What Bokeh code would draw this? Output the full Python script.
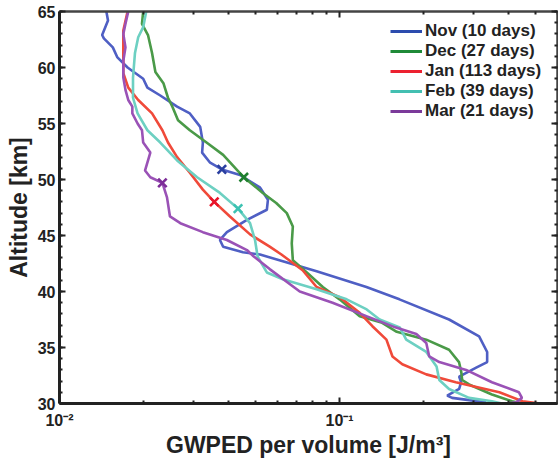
from bokeh.plotting import figure
from bokeh.models import Range1d, LinearAxis, LogAxis, FixedTicker, SingleIntervalTicker, Legend, LegendItem
from bokeh.embed import file_html
from bokeh.resources import INLINE

# ---- data ----
nov_alt = [65.0, 64.2, 62.9, 62.6, 61.8, 60.9, 60.0, 59.0, 58.2, 57.5, 56.5, 55.9, 54.7, 53.3, 52.4, 51.5, 50.9, 50.4,
           49.3, 48.2, 47.3, 46.4, 45.3, 44.6, 44.0, 43.5, 43.3, 42.7, 41.8, 40.4, 39.3, 37.5, 36.0, 34.6, 33.7, 33.2,
           32.4, 31.9, 31.3, 30.7, 30.5, 30.3, 30.1]
nov_val = [0.0147, 0.0149, 0.0142, 0.0144, 0.0155, 0.0161, 0.0175, 0.0199, 0.0206, 0.0229, 0.0263, 0.0292, 0.0318,
           0.0325, 0.0323, 0.0345, 0.0380, 0.0441, 0.0519, 0.0555, 0.0550, 0.0467, 0.0396, 0.0374, 0.0384, 0.0452,
           0.0520, 0.0627, 0.0828, 0.1247, 0.1636, 0.246, 0.315, 0.3365, 0.3365, 0.3075, 0.2673, 0.2717, 0.2673,
           0.2423, 0.2523, 0.2904, 0.3334]

dec_alt = [65.0, 63.9, 62.9, 61.3, 59.6, 58.6, 57.3, 56.5, 55.3, 54.4, 53.3, 52.2, 50.2, 48.8, 47.9, 47.0, 45.8, 44.3,
           42.8, 41.7, 40.4, 39.3, 37.8, 37.2, 36.4, 35.7, 34.8, 33.7, 32.8, 32.1, 31.7, 30.8, 30.2, 30.0]
dec_val = [0.0199, 0.0197, 0.0207, 0.0214, 0.0220, 0.0235, 0.0244, 0.0253, 0.0265, 0.0292, 0.0335, 0.0384, 0.0455,
           0.0532, 0.0594, 0.0648, 0.0681, 0.0675, 0.0681, 0.0764, 0.0871, 0.100, 0.118, 0.142, 0.160, 0.204, 0.246,
           0.267, 0.272, 0.274, 0.290, 0.350, 0.413, 0.45]

jan_alt = [65.0, 63.3, 60.6, 59.5, 58.2, 57.1, 55.9, 54.4, 53.3, 52.0, 50.6, 49.1, 48.0, 46.7, 45.1, 44.0, 43.3, 41.9,
           40.4, 39.5, 38.1, 36.9, 35.7, 34.2, 33.5, 32.6, 31.9, 31.0, 30.2, 30.0]
jan_val = [0.0175, 0.0169, 0.0169, 0.0169, 0.0176, 0.0191, 0.0214, 0.0233, 0.0244, 0.0263, 0.0292, 0.0325, 0.0357,
           0.0406, 0.0479, 0.0563, 0.0620, 0.0738, 0.0828, 0.100, 0.118, 0.131, 0.147, 0.1545, 0.1675, 0.204, 0.260,
           0.372, 0.45, 0.52]

feb_alt = [65.0, 63.6, 62.7, 61.3, 59.1, 57.3, 55.9, 54.4, 53.3, 51.7, 50.2, 48.8, 47.4, 46.1, 44.6, 43.1, 41.7, 41.1,
           40.2, 39.3, 38.4, 37.5, 36.8, 35.7, 34.6, 33.3, 32.1, 31.3, 30.5, 30.2, 30.0]
feb_val = [0.0204, 0.0199, 0.0191, 0.0186, 0.0183, 0.0183, 0.0190, 0.0206, 0.0229, 0.0263, 0.0310, 0.0374, 0.0434,
           0.0479, 0.0499, 0.0510, 0.0550, 0.0627, 0.0828, 0.106, 0.125, 0.139, 0.164, 0.173, 0.204, 0.222, 0.227,
           0.246, 0.290, 0.350, 0.38]

mar_alt = [65.0, 63.9, 63.0, 61.8, 60.6, 59.1, 58.0, 57.1, 56.5, 55.9, 55.0, 54.4, 53.3, 52.4, 50.8, 50.2, 49.7, 48.4,
           46.7, 46.1, 45.3, 44.6, 43.7, 43.2, 42.0, 40.0, 39.0, 37.8, 36.8, 36.2, 35.4, 34.2, 33.7, 33.0, 31.9, 31.0,
           30.5, 30.1, 30.0]
mar_val = [0.0176, 0.0172, 0.0169, 0.0172, 0.0169, 0.0169, 0.0172, 0.0176, 0.0182, 0.0182, 0.0190, 0.0197, 0.0199,
           0.0211, 0.0202, 0.0211, 0.0233, 0.0242, 0.0248, 0.0270, 0.0325, 0.0396, 0.0467, 0.0490, 0.0563, 0.0721,
           0.0944, 0.1247, 0.158, 0.188, 0.204, 0.209, 0.227, 0.283, 0.350, 0.437, 0.448, 0.427, 0.40]

labels = ["Nov (10 days)", "Dec (27 days)", "Jan (113 days)", "Feb (39 days)", "Mar (21 days)"]
marker_val = [0.0380, 0.0455, 0.0357, 0.0434, 0.0233]
marker_alt = [50.9, 50.2, 48.0, 47.4, 49.7]

x_major = [0.01, 0.1]
x_minor = [0.02, 0.03, 0.04, 0.05, 0.06, 0.07, 0.08, 0.09, 0.2, 0.3, 0.4, 0.5, 0.6]
x_tick_labels = {0.01: "10\u207b\u00b2", 0.1: "10\u207b\u00b9"}

line_colors = ["#4f5fc4", "#4a9a48", "#f04a3a", "#6dd0c2", "#9a52b6"]
legend_colors = ["#2c4cae", "#1f8a38", "#ec2130", "#43bfb1", "#7b3a9a"]
marker_colors = ["#2a3fa0", "#1f7f30", "#e8142a", "#3cc2b2", "#7d2d98"]

FONT = "Liberation Sans"
AX = "#222222"

p = figure(width=558, height=460, x_axis_type="log", output_backend="svg", toolbar_location=None,
           x_range=Range1d(0.01, 0.6), y_range=Range1d(30, 65),
           min_border_left=59, min_border_right=1, min_border_top=11, min_border_bottom=56)
p.grid.visible = False
p.outline_line_color = None
p.background_fill_color = "white"

series = [(nov_val, nov_alt), (dec_val, dec_alt), (jan_val, jan_alt), (feb_val, feb_alt), (mar_val, mar_alt)]
items = []
for (v, a), col, lcol, lab in zip(series, line_colors, legend_colors, labels):
    p.line(v, a, line_color=col, line_width=2.6)
    key = p.line([float("nan")], [float("nan")], line_color=lcol, line_width=3)
    items.append(LegendItem(label=lab, renderers=[key]))

for v, a, c in zip(marker_val, marker_alt, marker_colors):
    p.scatter([v], [a], marker="x", size=12, line_color=c, line_width=2.6)

legend = Legend(items=items, location="top_right", border_line_color=None, background_fill_alpha=0,
                label_text_font=FONT, label_text_font_style="bold", label_text_font_size="17px",
                label_text_color="#222222", label_text_line_height=1.0, label_height=18, glyph_height=18,
                glyph_width=32, label_width=122, spacing=0, padding=5, margin=10, label_standoff=3)
p.add_layout(legend)

xt = FixedTicker(ticks=x_major, minor_ticks=x_minor)
yt = SingleIntervalTicker(interval=5, num_minor_ticks=5)

xa = p.xaxis[0]
xa.ticker = xt
xa.major_label_overrides = x_tick_labels
xa.axis_label = "GWPED per volume [J/m\u00b3]"
ya = p.yaxis[0]
ya.ticker = yt
ya.axis_label = "Altitude [km]"

for ax in (xa, ya):
    ax.axis_line_width = 3
    ax.axis_line_color = AX
    ax.major_tick_in = 6
    ax.major_tick_out = 0
    ax.minor_tick_in = 3
    ax.minor_tick_out = 0
    ax.major_tick_line_color = AX
    ax.minor_tick_line_color = AX
    ax.major_tick_line_width = 2
    ax.minor_tick_line_width = 2
    ax.major_label_text_font = FONT
    ax.major_label_text_font_style = "bold"
    ax.major_label_text_font_size = "16px"
    ax.major_label_text_color = AX
    ax.axis_label_text_font = FONT
    ax.axis_label_text_font_style = "bold"
    ax.axis_label_text_font_size = "23px"
    ax.axis_label_text_color = AX
xa.major_label_standoff = 8
xa.axis_label_standoff = 0
ya.major_label_standoff = 4
ya.axis_label_standoff = 3

top = LogAxis(ticker=xt)
right = LinearAxis(ticker=yt)
for ax in (top, right):
    ax.axis_line_width = 2.5
    ax.axis_line_color = "#444444"
    ax.major_tick_in = 6
    ax.major_tick_out = 0
    ax.minor_tick_in = 3
    ax.minor_tick_out = 0
    ax.major_tick_line_color = AX
    ax.minor_tick_line_color = AX
    ax.major_tick_line_width = 2
    ax.minor_tick_line_width = 2
    ax.major_label_text_font_size = "1px"
    ax.major_label_text_color = None
    ax.major_label_standoff = 0
p.add_layout(top, "above")
p.add_layout(right, "right")

open("out.html", "w").write(file_html(p, INLINE))
